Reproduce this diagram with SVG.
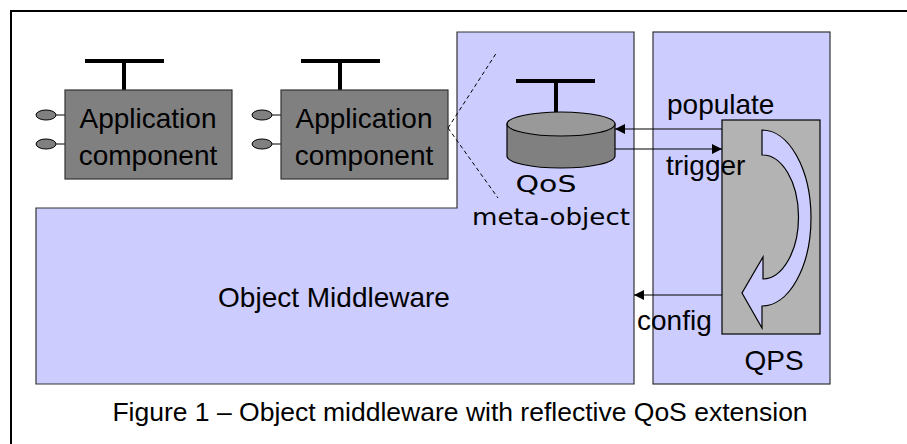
<svg xmlns="http://www.w3.org/2000/svg" width="907" height="444" viewBox="0 0 907 444">
  <style>
    .panel { fill: #CCCCFF; stroke: #333333; stroke-width: 1.2; }
    .comp { fill: #808080; stroke: #333333; stroke-width: 1.2; }
    .port { fill: #808080; stroke: #000000; stroke-width: 1; }
    .wire { stroke: #000000; stroke-width: 1.2; fill: none; }
    .tbar { stroke: #000000; stroke-width: 4; fill: none; }
    .lbl { font-family: "Liberation Sans", Arial, sans-serif; font-size: 28px; fill: #000000; }
    .cap { font-family: "Liberation Sans", Arial, sans-serif; font-size: 26.5px; fill: #000000; }
    .hand { font-family: "DejaVu Sans", sans-serif; font-size: 23px; fill: #000000; }
    .dash { stroke: #000000; stroke-width: 1; stroke-dasharray: 4 3; fill: none; }
    .flow { stroke: #000000; stroke-width: 1.2; fill: none; }
  </style>
  <defs>
    <marker id="head" viewBox="0 0 10 10" refX="10" refY="5" markerWidth="10" markerHeight="10" markerUnits="userSpaceOnUse" orient="auto">
      <path d="M0,0 L10,5 L0,10 Z" fill="#000000"/>
    </marker>
  </defs>

  <rect width="907" height="444" fill="#FFFFFF"/>

  <!-- open figure frame -->
  <path d="M11,444 V11 H907" stroke="#000000" stroke-width="2" fill="none"/>

  <!-- middleware: L-shaped layer -->
  <g id="middleware">
    <path class="panel" d="M457,32 H634 V384 H36 V208 H457 Z"/>
    <text class="lbl" x="334" y="307" text-anchor="middle">Object Middleware</text>
  </g>

  <!-- QoS provisioning service -->
  <g id="qps">
    <rect class="panel" x="653" y="32" width="177" height="352"/>
    <rect x="722" y="120" width="98" height="214" fill="#B3B3B3" stroke="#000000" stroke-width="1.2"/>
    <path d="M762,130 A49,88 0 0 1 762,306 L762,328 L742,293 L763,257 L763,279 A36,62 0 0 0 762,155 Z" fill="#CCCCFF" stroke="#000000" stroke-width="1.2"/>
    <text class="lbl" x="774" y="370" text-anchor="middle">QPS</text>
  </g>

  <!-- application components -->
  <g id="app1">
    <path class="tbar" d="M85,61 H164 M124,61 V90"/>
    <path class="wire" d="M56,115 H65 M56,144 H65"/>
    <ellipse class="port" cx="46" cy="115" rx="10" ry="5"/>
    <ellipse class="port" cx="46" cy="144" rx="10" ry="5"/>
    <rect class="comp" x="65" y="90" width="167" height="89"/>
    <text class="lbl" x="148" y="128" text-anchor="middle">Application</text>
    <text class="lbl" x="148" y="165" text-anchor="middle">component</text>
  </g>

  <g id="app2">
    <path class="tbar" d="M301,61 H380 M340,61 V90"/>
    <path class="wire" d="M272,115 H281 M272,144 H281"/>
    <ellipse class="port" cx="262" cy="115" rx="10" ry="5"/>
    <ellipse class="port" cx="262" cy="144" rx="10" ry="5"/>
    <rect class="comp" x="281" y="90" width="167" height="89"/>
    <text class="lbl" x="364" y="128" text-anchor="middle">Application</text>
    <text class="lbl" x="364" y="165" text-anchor="middle">component</text>
  </g>

  <!-- QoS meta-object store -->
  <g id="metaobject">
    <path class="tbar" d="M516,81 H595 M556,81 V112"/>
    <path d="M507,124 V156 A54,12 0 0 0 615,156 V124 Z" fill="#808080" stroke="#000000" stroke-width="1.2"/>
    <ellipse cx="561" cy="124" rx="54" ry="12" fill="#999999" stroke="#000000" stroke-width="1.2"/>
    <text class="hand" x="546" y="192" text-anchor="middle" textLength="61" lengthAdjust="spacingAndGlyphs">QoS</text>
    <text class="hand" x="551" y="225" text-anchor="middle" textLength="158" lengthAdjust="spacingAndGlyphs">meta-object</text>
  </g>

  <!-- connectors -->
  <g id="connectors">
    <path class="dash" d="M448,128 L497,52 M448,128 L498,198"/>
    <path class="flow" d="M722,129 H615" marker-end="url(#head)"/>
    <path class="flow" d="M615,149 H722" marker-end="url(#head)"/>
    <path class="flow" d="M722,295 H634" marker-end="url(#head)"/>
    <text class="lbl" x="667" y="114">populate</text>
    <text class="lbl" x="666" y="175">trigger</text>
    <text class="lbl" x="637" y="330">config</text>
  </g>

  <!-- caption -->
  <text class="cap" x="460" y="421" text-anchor="middle">Figure 1 – Object middleware with reflective QoS extension</text>
</svg>
